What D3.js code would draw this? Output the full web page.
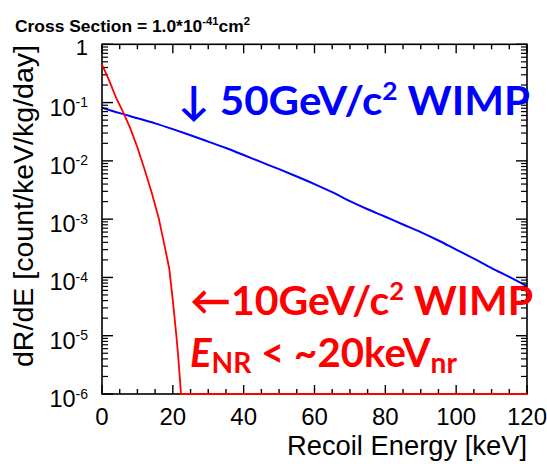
<!DOCTYPE html>
<html><head><meta charset="utf-8">
<script src="https://cdn.jsdelivr.net/npm/d3@7"></script>
<style>body{margin:0;background:#fff}svg{display:block}</style>
</head><body><svg id="c" width="547" height="464"></svg>
<script>
// ---- data ----
const energy50 = [0,5,10,15,20,25,30,35,40,45,50,55,60,65,70,75,80,85,90,95,100,105,110,115,120];
const rate50 = [0.082,0.066,0.054,0.044,0.035,0.0275,0.0214,0.0166,0.0126,0.0095,0.0072,0.0054,0.0040,0.0029,0.00204,0.00148,0.0011,0.00081,0.00060,0.00043,0.00030,0.00021,0.000145,0.000102,0.000071];
const energy10 = [0,1,2,3,4,6,8,10,12,14,16,18,19,20,21,21.5,22,22.3,120];
const rate10 = [0.45,0.33,0.24,0.17,0.12,0.068,0.036,0.017,0.0072,0.0029,0.00105,0.00028,0.00014,0.00004,0.00001,0.0000045,0.0000018,0,0];
const xTicks = [0,20,40,60,80,100,120];
const yDecades = [1,1e-1,1e-2,1e-3,1e-4,1e-5,1e-6];
const yExponents = ["","-1","-2","-3","-4","-5","-6"];

const svg = d3.select("#c");
const L=102, R=527, T=44.3, B=394;
const x = d3.scaleLinear().domain([0,120]).range([L,R]);
const y = d3.scaleLog().domain([1e-6,1]).range([B,T]).clamp(true);
const yv = v => y(Math.max(v,1e-6));

svg.append("clipPath").attr("id","clip").append("rect").attr("x",L).attr("y",T).attr("width",R-L).attr("height",B-T);
const g = svg.append("g").attr("clip-path","url(#clip)");

// frame
svg.append("rect").attr("x",L).attr("y",T).attr("width",R-L).attr("height",B-T)
  .attr("fill","none").attr("stroke","#000").attr("stroke-width",1.6);

// x ticks
d3.range(0,121,5).forEach(v=>{
  const major = v%20===0, len = major?9:5;
  svg.append("line").attr("x1",x(v)).attr("x2",x(v)).attr("y1",B).attr("y2",B-len).attr("stroke","#000").attr("stroke-width",1.4);
  svg.append("line").attr("x1",x(v)).attr("x2",x(v)).attr("y1",T).attr("y2",T+len).attr("stroke","#000").attr("stroke-width",1.4);
});
// y ticks
yDecades.forEach(d=>{
  [L,R].forEach(px=>{
    const s = px===L?1:-1;
    svg.append("line").attr("x1",px).attr("x2",px+s*11).attr("y1",y(d)).attr("y2",y(d)).attr("stroke","#000").attr("stroke-width",1.4);
    if(d>1e-6) for(let k=2;k<=9;k++){
      const v=d*k/10;
      svg.append("line").attr("x1",px).attr("x2",px+s*6).attr("y1",y(v)).attr("y2",y(v)).attr("stroke","#000").attr("stroke-width",1.2);
    }
  });
});

// lines
const line = d3.line().x(d=>x(d[0])).y(d=>yv(d[1])).curve(d3.curveMonotoneX);
g.append("path").datum(energy50.map((e,i)=>[e,rate50[i]])).attr("d",line)
  .attr("fill","none").attr("stroke","#0000ff").attr("stroke-width",2);
svg.append("path").datum(energy10.map((e,i)=>[e,rate10[i]])).attr("d",d3.line().x(d=>x(d[0])).y(d=>yv(d[1])))
  .attr("fill","none").attr("stroke","#ff0000").attr("stroke-width",1.8);

// tick labels
const font = "'Liberation Sans', Arial, sans-serif";
xTicks.forEach(v=>{
  svg.append("text").attr("x",x(v)).attr("y",425).attr("text-anchor","middle")
    .attr("font-family",font).attr("font-size",24).text(v);
});
yDecades.forEach((d,i)=>{
  const t = svg.append("text").attr("x",88).attr("text-anchor","end").attr("font-family",font);
  if(yExponents[i]===""){
    t.attr("y",y(d)+11).attr("font-size",22).text("1");
  } else {
    t.attr("y",y(d)+13).attr("font-size",23.5);
    t.append("tspan").text("10");
    t.append("tspan").attr("font-size",14).attr("dy",-8.5).text(yExponents[i]);
  }
});

// axis titles
svg.append("text").attr("x",287).attr("y",455)
  .attr("font-family",font).attr("font-size",27).attr("textLength",240).attr("lengthAdjust","spacingAndGlyphs").text("Recoil Energy [keV]");
svg.append("text").attr("transform","translate(33,367) rotate(-90)")
  .attr("font-family",font).attr("font-size",28).attr("textLength",322).attr("lengthAdjust","spacingAndGlyphs").text("dR/dE [count/keV/kg/day]");

// header
const h = svg.append("text").attr("x",15).attr("y",32).attr("font-family",font).attr("font-weight","bold").attr("font-size",17)
  .attr("textLength",235).attr("lengthAdjust","spacingAndGlyphs");
h.append("tspan").text("Cross Section = 1.0*10");
h.append("tspan").attr("font-size",11).attr("dy",-7).text("-41");
h.append("tspan").attr("dy",7).text("cm");
h.append("tspan").attr("font-size",11).attr("dy",-7).text("2");

// annotations
const afont = "Lato, 'Open Sans', sans-serif";
const a1 = svg.append("text").attr("x",178).attr("y",115).attr("fill","#0000ff")
  .attr("font-family",afont).attr("font-weight","bold").attr("font-size",40)
  .attr("textLength",352).attr("lengthAdjust","spacingAndGlyphs");
a1.append("tspan").text("↓ 50GeV/c");
a1.append("tspan").attr("font-size",25).attr("dy",-15).text("2");
a1.append("tspan").attr("dy",15).text(" WIMP");

const a2 = svg.append("text").attr("x",190).attr("y",315).attr("fill","#ff0000")
  .attr("font-family",afont).attr("font-weight","bold").attr("font-size",40)
  .attr("textLength",343).attr("lengthAdjust","spacingAndGlyphs");
a2.append("tspan").text("←10GeV/c");
a2.append("tspan").attr("font-size",25).attr("dy",-15).text("2");
a2.append("tspan").attr("dy",15).text(" WIMP");

const a3 = svg.append("text").attr("x",190).attr("y",367).attr("fill","#ff0000")
  .attr("font-family",afont).attr("font-weight","bold").attr("font-size",40)
  .attr("textLength",267).attr("lengthAdjust","spacingAndGlyphs");
a3.append("tspan").attr("font-style","italic").text("E");
a3.append("tspan").attr("font-size",28).attr("dy",6).text("NR");
a3.append("tspan").attr("dy",-6).text(" < ~20keV");
a3.append("tspan").attr("font-size",28).attr("dy",6).text("nr");
</script></body></html>
